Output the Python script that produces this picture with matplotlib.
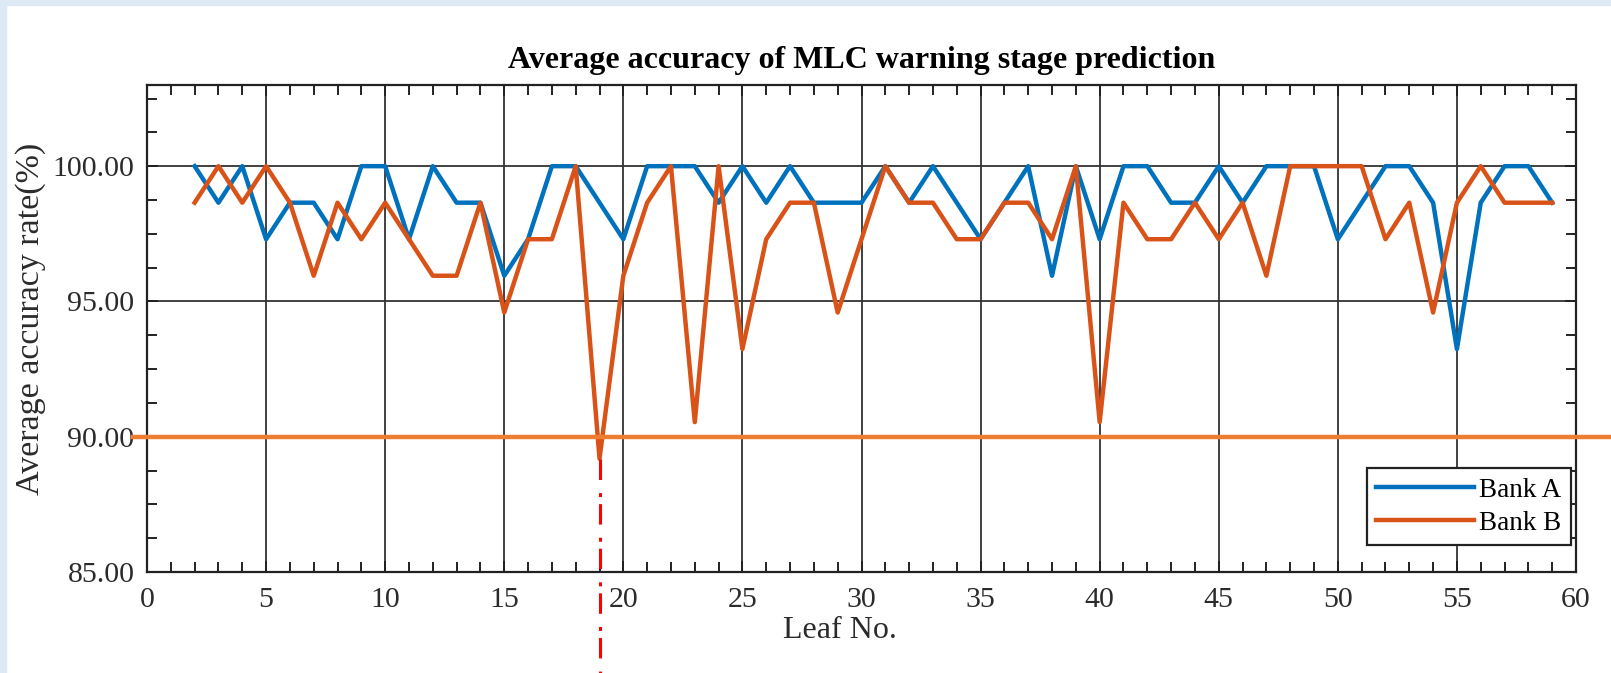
import numpy as np
import matplotlib
matplotlib.use("Agg")
import matplotlib.pyplot as plt
from matplotlib.patches import Rectangle
from matplotlib.ticker import MultipleLocator, FormatStrFormatter

# leaf numbers and accuracy (%)
leaf = list(range(2, 60))
bank_a = [100.00, 98.65, 100.00, 97.30, 98.65, 98.65, 97.30, 100.00, 100.00, 97.30,
          100.00, 98.65, 98.65, 95.95, 97.30, 100.00, 100.00, 98.65, 97.30, 100.00,
          100.00, 100.00, 98.65, 100.00, 98.65, 100.00, 98.65, 98.65, 98.65, 100.00,
          98.65, 100.00, 98.65, 97.30, 98.65, 100.00, 95.95, 100.00, 97.30, 100.00,
          100.00, 98.65, 98.65, 100.00, 98.65, 100.00, 100.00, 100.00, 97.30, 98.65,
          100.00, 100.00, 98.65, 93.24, 98.65, 100.00, 100.00, 98.65]
bank_b = [98.65, 100.00, 98.65, 100.00, 98.65, 95.95, 98.65, 97.30, 98.65, 97.30,
          95.95, 95.95, 98.65, 94.59, 97.30, 97.30, 100.00, 89.19, 95.95, 98.65,
          100.00, 90.54, 100.00, 93.24, 97.30, 98.65, 98.65, 94.59, 97.30, 100.00,
          98.65, 98.65, 97.30, 97.30, 98.65, 98.65, 97.30, 100.00, 90.54, 98.65,
          97.30, 97.30, 98.65, 97.30, 98.65, 95.95, 100.00, 100.00, 100.00, 100.00,
          97.30, 98.65, 94.59, 98.65, 100.00, 98.65, 98.65, 98.65]
threshold = 90.0
marked_leaf = 19

serif = "Liberation Serif"
grey = "#2b2b2b"

fig = plt.figure(figsize=(16.11, 6.73), dpi=100)
# light blue frame strips at top and left
fig.patches.append(Rectangle((0, 1 - 5 / 673), 1, 5 / 673, transform=fig.transFigure,
                             color="#dde9f5", zorder=0))
fig.patches.append(Rectangle((0, 0), 6 / 1611, 1, transform=fig.transFigure,
                             color="#dde9f5", zorder=0))

ax = fig.add_axes([147 / 1611, 1 - 572 / 673, (1576 - 147) / 1611, (572 - 85) / 673])

ax.plot(leaf, bank_a, color="#0072BD", lw=3.2, label="Bank A", zorder=3)
ax.plot(leaf, bank_b, color="#D95319", lw=3.2, label="Bank B", zorder=3)

ax.set_xlim(0, 60)
ax.set_ylim(85, 103)
ax.xaxis.set_major_locator(MultipleLocator(5))
ax.xaxis.set_minor_locator(MultipleLocator(1))
ax.yaxis.set_major_locator(MultipleLocator(5))
ax.yaxis.set_minor_locator(MultipleLocator(1.25))
ax.yaxis.set_major_formatter(FormatStrFormatter("%.2f"))

ax.grid(True, which="major", color="#333333", lw=1.3)
ax.set_axisbelow(True)
ax.tick_params(which="both", direction="in", top=True, right=True, width=1.4,
               color="#222222")
ax.tick_params(which="major", length=8, labelsize=21.5, labelcolor=grey)
ax.tick_params(axis="x", which="major", pad=11)
ax.tick_params(axis="y", which="major", pad=9)
ax.tick_params(which="minor", length=7)
for lab in ax.get_xticklabels() + ax.get_yticklabels():
    lab.set_family(serif)
for s in ax.spines.values():
    s.set_linewidth(1.6)
    s.set_color("#222222")

ax.set_title("Average accuracy of MLC warning stage prediction", fontsize=23,
             fontweight="bold", family=serif, pad=12)
ax.set_xlabel("Leaf No.", fontsize=23, family=serif, color=grey)
ax.set_ylabel("Average accuracy rate(%)", fontsize=24.5, family=serif, color=grey)
ax.yaxis.set_label_coords(-0.071, 0.52)
ax.xaxis.set_label_coords(0.485, -0.09)

leg = ax.legend(loc="lower right", bbox_to_anchor=(0.9965, 0.055),
                prop={"family": serif, "size": 19.5}, fancybox=False, framealpha=1,
                edgecolor="#222222", handlelength=3.6, borderpad=0.35,
                labelspacing=0.3, handletextpad=0.2, borderaxespad=0)
leg.get_frame().set_linewidth(1.6)
leg.set_zorder(5)

# annotation: threshold line and marked leaf
ax.plot([-0.6, 62], [threshold, threshold], color="#ED7D31", lw=3.2,
        clip_on=False, zorder=6)
ax.plot([marked_leaf, marked_leaf], [bank_b[leaf.index(marked_leaf)], 81.0],
        color="#FF0000", lw=2.2, ls=(0, (6.7, 4.3, 1.3, 2.3)), clip_on=False, zorder=6)
ax.set_xlim(0, 60)
ax.set_ylim(85, 103)

fig.savefig("out.png", dpi=100)
